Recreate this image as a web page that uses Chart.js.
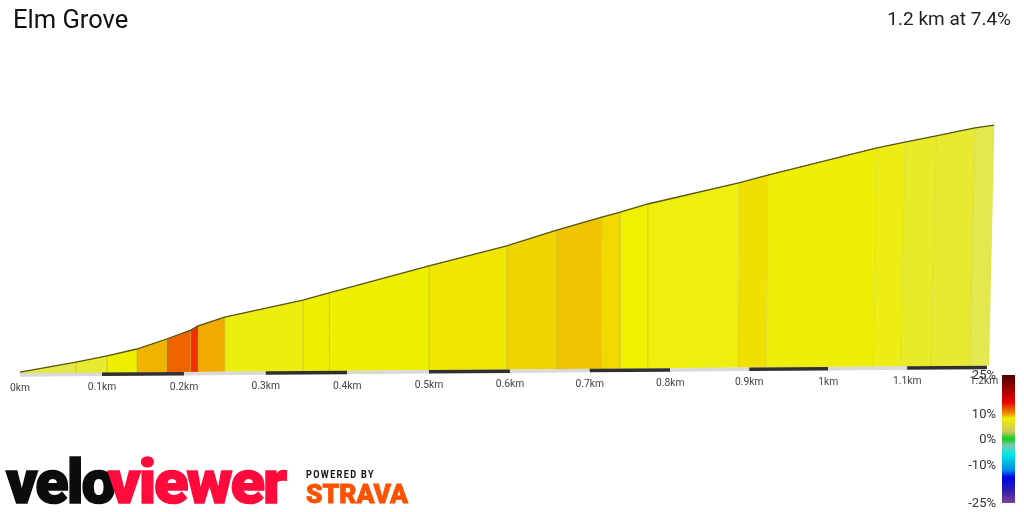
<!DOCTYPE html>
<html><head><meta charset="utf-8">
<script src="https://cdn.jsdelivr.net/npm/chart.js@4"></script>
<style>html,body{margin:0;padding:0;background:#fff}#w{position:relative;width:1024px;height:512px}</style>
</head><body><div id="w"><canvas id="c" width="1024" height="512"></canvas></div>
<script>
const titleText = "Elm Grove";
const summaryText = "1.2 km at 7.4%";
// Segment boundaries along the projected road, metres
const topDist = [0,69.5,108,145,182,212,221,254,351,383.5,507.6,604,666,722,745,779,892,928,1063.5,1098,1137,1185,1209];
const topElev = [0.7,4.3,6.5,9,12.6,15.8,17.3,20.5,26.6,29.2,38.9,46.1,51.8,56.5,58.3,61.2,68.8,71.6,81.4,83.5,85.7,88.6,89.6];
const baseDist = [0,69.5,108,145,182,212,221,254,351,384,507.6,604,666,721,745,779,891,926,1058.6,1093,1130.5,1178,1202.5];
const baseElev = [0.2,0.4,0.4,0.5,0.6,0.7,0.7,0.8,1,1.1,1.4,1.6,1.8,1.9,2,2.1,2.3,2.4,2.7,2.8,2.9,3,3.1];
const segmentColors = ["#e6e84a","#e8ea30","#eeee00","#f0b400","#f06400","#f03000","#f0aa00","#ecee10","#eeee00","#eeee00","#f0e600","#f0d400","#f0c400","#f0d800","#f0f000","#eeee10","#f0e000","#eeee08","#eded14","#e9ea2a","#e8e930","#e2e84e"];
// Distance axis
const tickLabels = ["0km","0.1km","0.2km","0.3km","0.4km","0.5km","0.6km","0.7km","0.8km","0.9km","1km","1.1km","1.2km"];
const tickDist = [0,101.8,203.5,305,406,507.6,608,707,807,905,1003,1101,1200];
const tickElev = [-0.36,-0.13,0.1,0.33,0.55,0.78,1,1.23,1.46,1.68,1.9,2.12,2.34];
// Gradient legend
const gradeTicks = [25,10,0,-10,-25];
const gradeStops = [25,20,14.5,12,10,8,3,0,-2.5,-6,-12,-15,-20,-25];
const gradeColors = ["#4d0000","#990000","#e60000","#e85000","#f09000","#eeee00","#cfc860","#11cc22","#7cc7b0","#00e6e6","#0090e6","#0000e6","#2a20b0","#7f3f98"];

const datasets = [];
for (let i = 0; i < segmentColors.length; i++) {
  datasets.push({
    data: [
      {x: baseDist[i], y: baseElev[i]},
      {x: topDist[i], y: topElev[i]},
      {x: topDist[i+1], y: topElev[i+1]},
      {x: baseDist[i+1], y: baseElev[i+1]},
      {x: baseDist[i], y: baseElev[i]}
    ],
    showLine: true, fill: 'shape', backgroundColor: segmentColors[i],
    borderColor: 'rgba(170,170,0,0.14)', borderWidth: 1, pointRadius: 0, tension: 0
  });
}
datasets.unshift({ data: topDist.map((x,i)=>({x, y: topElev[i]})), showLine: true, fill:false,
  borderColor:'#55550f', borderWidth:1.3, pointRadius:0, tension:0 });
for (let i = 0; i < tickDist.length - 1; i++) {
  datasets.unshift({ data:[{x:tickDist[i],y:tickElev[i]},{x:tickDist[i+1],y:tickElev[i+1]}],
    showLine:true, fill:false, borderColor: i%2 ? '#303030' : '#d9d9d9', borderWidth:3.5,
    pointRadius:0, tension:0, borderCapStyle:'butt' });
}

function fitText(ctx, text, x, w, baseline, font, color, spacing, fatten) {
  ctx.save();
  ctx.font = font; ctx.fillStyle = color; ctx.textAlign = 'left'; ctx.textBaseline = 'alphabetic';
  ctx.letterSpacing = spacing || '0px';
  const m = ctx.measureText(text).width;
  ctx.translate(x, baseline); ctx.scale(w / m, 1);
  if (fatten) { ctx.strokeStyle = color; ctx.lineWidth = fatten; ctx.lineJoin = 'miter'; ctx.strokeText(text, 0, 0); }
  ctx.fillText(text, 0, 0);
  ctx.restore();
}

const overlay = {
  id: 'overlay',
  afterDraw(chart) {
    const {ctx, scales:{x, y, g}} = chart;
    ctx.save();
    ctx.textBaseline = 'alphabetic';
    ctx.fillStyle = '#111'; ctx.textAlign = 'left';
    ctx.font = '25.5px Roboto';
    ctx.fillText(titleText, 13, 28);
    ctx.textAlign = 'right'; ctx.font = '19px Roboto'; ctx.fillStyle = '#222';
    ctx.fillText(summaryText, 1011, 25);

    ctx.font = '10.3px Roboto'; ctx.fillStyle = '#444'; ctx.textAlign = 'center'; ctx.textBaseline = 'middle';
    tickLabels.forEach((t,i)=> ctx.fillText(t, x.getPixelForValue(tickDist[i]) - (i===12?3:0), y.getPixelForValue(tickElev[i]) + 13.5));

    const barL = 1002, barW = 13;
    const py = g.getPixelForValue(25), pb = g.getPixelForValue(-25);
    const grad = ctx.createLinearGradient(0, py, 0, pb);
    gradeStops.forEach((s,i)=> grad.addColorStop((25 - s)/50, gradeColors[i]));
    ctx.fillStyle = grad; ctx.fillRect(barL, py, barW, pb - py);
    ctx.font = '13px Roboto'; ctx.fillStyle = '#333'; ctx.textAlign = 'right';
    gradeTicks.forEach(v => ctx.fillText(v + '%', 996, g.getPixelForValue(v) + 1));
    ctx.restore();

    fitText(ctx, 'velo', 6, 108, 502.5, '900 62px Roboto', '#0c0c0c', '-2px', 1.5);
    fitText(ctx, 'viewer', 108, 177, 502.5, '900 62px Roboto', '#ff0a3c', '-2px', 1.5);
    fitText(ctx, 'POWERED BY', 306, 69, 478, '700 10px Roboto', '#111', '1.5px');
    fitText(ctx, 'STRAVA', 306, 102, 503, '900 26px Roboto', '#fc5200', '0px', 0.8);
  }
};

new Chart(document.getElementById('c'), {
  type: 'scatter',
  data: { datasets },
  options: {
    responsive: false, animation: false, events: [],
    layout: { padding: 0 },
    plugins: { legend: {display:false}, tooltip: {enabled:false}, title:{display:false} },
    scales: {
      x: { type:'linear', display:false, min:-24.82, max:1246 },
      y: { type:'linear', display:false, min:-49.68, max:134.64 },
      g: { type:'linear', display:false, position:'right', min:-28.52, max:171.48 }
    }
  },
  plugins: [overlay]
});
</script></body></html>
